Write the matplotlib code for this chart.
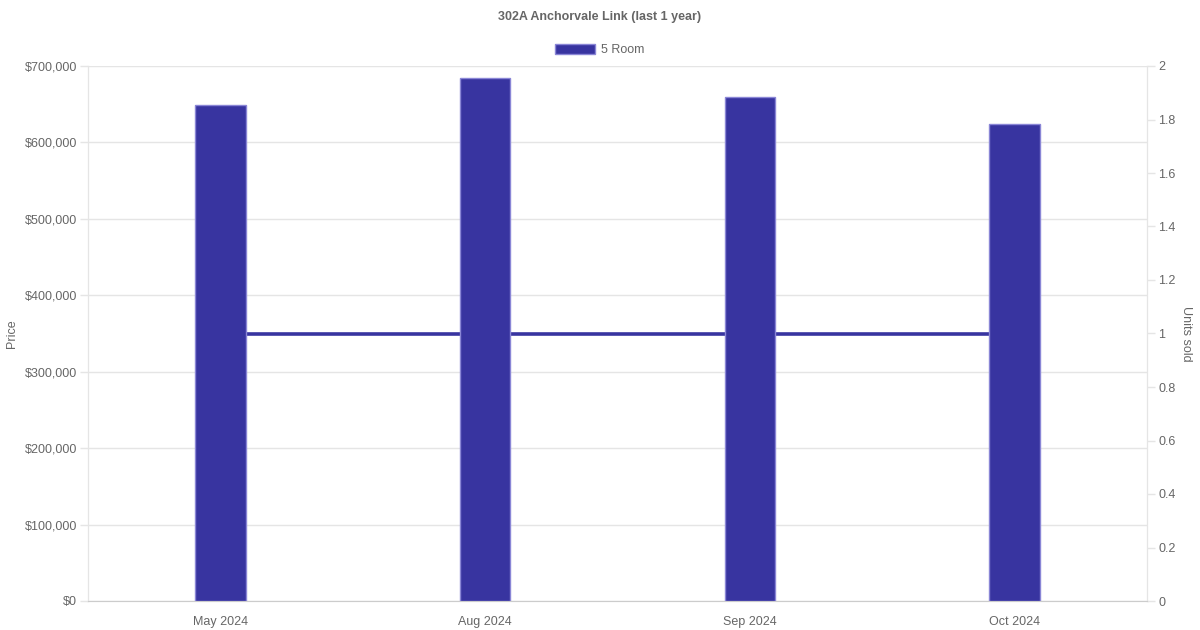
import numpy as np
import matplotlib.pyplot as plt
from matplotlib.patches import Patch
from matplotlib.ticker import FuncFormatter, MultipleLocator

plt.rcParams['font.family'] = ['Liberation Sans', 'DejaVu Sans']

# dados
months = ["May 2024", "Aug 2024", "Sep 2024", "Oct 2024"]
prices = [649000, 684000, 659000, 624000]
units = [1, 1, 1, 1]

cor = '#3834a0'
borda = '#8a86d6'
cinza = '#666666'
grade = '#e5e5e5'

fig = plt.figure(figsize=(12, 6.3), dpi=100)
ax = fig.add_axes([88/1200, 1-601/630, (1147-88)/1200, (601-66)/630])
ax2 = ax.twinx()

x = np.arange(len(months))
ax.bar(x, prices, width=0.19, color=cor, edgecolor=borda, linewidth=1, zorder=3)
ax2.plot(x, units, color=cor, linewidth=2.6, solid_capstyle='butt')

# barras por cima da linha
ax.set_zorder(ax2.get_zorder() + 1)
ax.patch.set_visible(False)

ax.set_xlim(-0.5, len(months) - 0.5)
ax.set_ylim(0, 700000)
ax.yaxis.set_major_locator(MultipleLocator(100000))
ax.yaxis.set_major_formatter(FuncFormatter(lambda v, p: "${:,.0f}".format(v)))
ax2.set_ylim(0, 2)
ax2.yaxis.set_major_locator(MultipleLocator(0.2))
ax2.yaxis.set_major_formatter(FuncFormatter(lambda v, p: "{:g}".format(round(v, 1))))

ax.set_xticks(x)
ax.set_xticklabels(months)
ax.grid(axis='y', color=grade, linewidth=1, zorder=0)
ax.set_axisbelow(True)

for a in (ax, ax2):
    a.tick_params(colors=cinza, labelsize=9, length=6, width=1, pad=2)
    a.tick_params(axis='y', color=grade)
    for s in a.spines.values():
        s.set_color(grade)
    a.spines['top'].set_visible(False)
ax.tick_params(axis='x', length=0, pad=11)
ax.spines['bottom'].set_color('#cccccc')

ax.set_ylabel("Price", color=cinza, fontsize=9, labelpad=5)
ax2.set_ylabel("Units sold", color=cinza, fontsize=9, rotation=270, labelpad=12)

fig.text(0.5, 1-17/630, "302A Anchorvale Link (last 1 year)", ha='center', va='center',
         fontsize=9, fontweight='bold', color=cinza)
fig.legend(handles=[Patch(facecolor=cor, edgecolor=borda, label="5 Room")],
           loc='center', bbox_to_anchor=(0.5, 1-50/630), frameon=False,
           fontsize=9, labelcolor=cinza, handlelength=3.2, handleheight=0.9, handletextpad=0.5)

plt.savefig("out.png", dpi=100)
plt.close()
